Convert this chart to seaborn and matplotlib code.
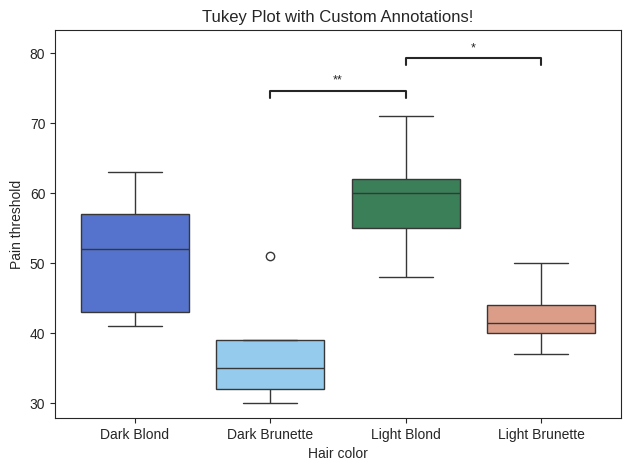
import matplotlib
matplotlib.use("Agg")
import matplotlib.pyplot as plt
import seaborn as sns
import pandas as pd

light_blond = [62, 60, 71, 55, 48]
dark_blond = [63, 57, 52, 41, 43]
light_brunette = [42, 50, 41, 37]
dark_brunette = [32, 39, 51, 30, 35]
categories = ["Dark Blond", "Dark Brunette", "Light Blond", "Light Brunette"]
palette = ["royalblue", "lightskyblue", "seagreen", "darksalmon"]

groups = {"Dark Blond": dark_blond, "Dark Brunette": dark_brunette,
          "Light Blond": light_blond, "Light Brunette": light_brunette}
rows = []
for k, v in groups.items():
    for val in v:
        rows.append({"Hair color": k, "Pain threshold": val})
df = pd.DataFrame(rows)

sns.set_style("ticks")
plt.rcParams["font.family"] = ["Liberation Sans", "DejaVu Sans"]

fig, ax = plt.subplots(figsize=(6.3, 4.7), dpi=100)
sns.boxplot(data=df, x="Hair color", y="Pain threshold", hue="Hair color",
            order=categories, hue_order=categories, palette=palette, ax=ax, legend=False)

# annotations
annotations = [("Dark Brunette", "Light Blond", "**", 74.6),
               ("Light Blond", "Light Brunette", "*", 79.3)]
h = 1.0
for a, b, label, y in annotations:
    x1, x2 = categories.index(a), categories.index(b)
    ax.plot([x1, x1, x2, x2], [y - h, y, y, y - h], lw=1.5, c="0.15")
    ax.text((x1 + x2) / 2, y + 0.6, label, ha="center", va="bottom", color="0.15", fontsize=9)

ax.set_ylim(27.9, 83.33)
ax.set_title("Tukey Plot with Custom Annotations!")
fig.subplots_adjust(left=55/630, right=621/630, top=1-30/470, bottom=1-418/470)
fig.savefig("out.png", dpi=100)
